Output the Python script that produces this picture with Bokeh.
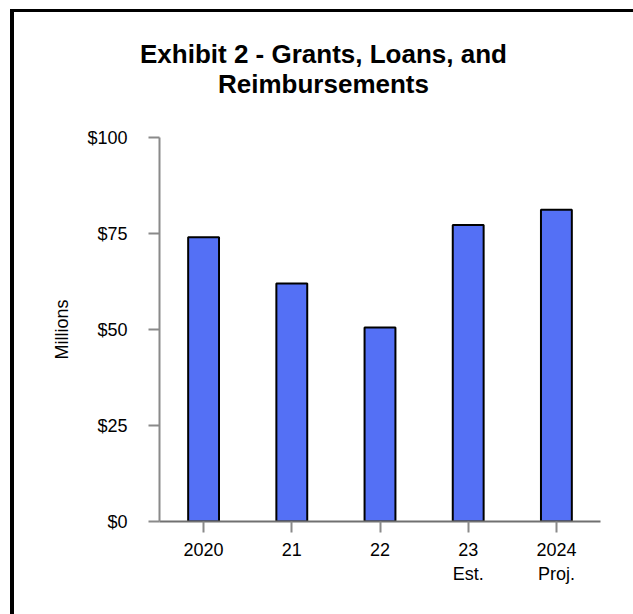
from bokeh.plotting import figure
from bokeh.models import FactorRange, Range1d, FixedTicker, NumeralTickFormatter, Title
from bokeh.layouts import column
from bokeh.embed import file_html
from bokeh.resources import INLINE

# Fiscal years and amounts (millions of dollars)
years = ["2020", "21", "22", "23\nEst.", "2024\nProj."]
amounts = [74, 62, 50.5, 77.2, 81.2]
y_ticks = [0, 25, 50, 75, 100]

title_lines = ["Exhibit 2 - Grants, Loans, and", "Reimbursements"]

FONT = "Liberation Sans"
BAR_COLOR = "#5470F5"
TITLE_SIZE = 26

p = figure(width=619, height=602,
           x_range=FactorRange(*years, range_padding=0),
           y_range=Range1d(0, 100),
           output_backend="svg", toolbar_location=None,
           min_border_left=145, min_border_right=33,
           min_border_top=125, min_border_bottom=93)

p.vbar(x=years, top=amounts, width=0.35,
       fill_color=BAR_COLOR, line_color="black", line_width=2)

p.grid.visible = False
p.outline_line_color = None
p.background_fill_color = "white"
p.border_fill_color = "white"

# Y axis
ya = p.yaxis[0]
ya.ticker = FixedTicker(ticks=y_ticks)
ya.formatter = NumeralTickFormatter(format="$0")
ya.minor_tick_line_color = None
ya.major_tick_in = 0
ya.major_tick_out = 11
ya.major_tick_line_color = "#8a8a8a"
ya.major_tick_line_width = 2
ya.axis_line_color = "#8a8a8a"
ya.axis_line_width = 2
ya.major_label_standoff = 21
ya.major_label_text_font = FONT
ya.major_label_text_font_size = "18px"
ya.major_label_text_color = "black"
ya.axis_label = "Millions"
ya.axis_label_text_font = FONT
ya.axis_label_text_font_style = "normal"
ya.axis_label_text_font_size = "18px"
ya.axis_label_text_color = "black"
ya.axis_label_standoff = 12

# X axis
xa = p.xaxis[0]
xa.minor_tick_line_color = None
xa.major_tick_in = 0
xa.major_tick_out = 11
xa.major_tick_line_color = "#8a8a8a"
xa.major_tick_line_width = 2
xa.axis_line_color = "#707070"
xa.axis_line_width = 2
xa.major_label_standoff = 7
xa.major_label_text_font = FONT
xa.major_label_text_font_size = "18px"
xa.major_label_text_color = "black"

# Gap between the plot area and the title block
p.add_layout(Title(text=" ", text_font_size="10px", standoff=27), "above")

# Two-line bold title, each line centred on x = 309 (figure pixels);
# widths from Arial/Liberation Sans Bold advance widths (em units)
line_em = [14.115, 8.113]
center_x = 309
frame_left = 145
# lines stack outward from the frame: add the lower line first
for i in (1, 0):
    w = line_em[i] * TITLE_SIZE
    p.add_layout(Title(text=title_lines[i], align="left",
                       offset=center_x - w / 2 - frame_left,
                       standoff=-2,
                       text_font=FONT, text_font_style="bold",
                       text_font_size=f"{TITLE_SIZE}px", text_color="black"),
                 "above")

layout = column(p, margin=(9, 0, 0, 10),
                styles={"border-left": "4px solid black",
                        "border-top": "3px solid black"})

open("out.html", "w").write(file_html(layout, INLINE))
